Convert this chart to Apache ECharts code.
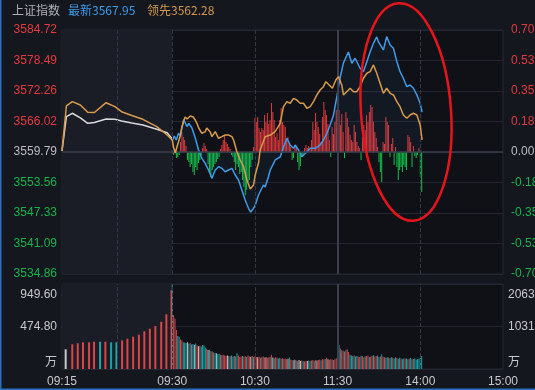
<!DOCTYPE html>
<html><head><meta charset="utf-8">
<script src="https://cdn.jsdelivr.net/npm/echarts@6/dist/echarts.min.js"></script>
<style>html,body{margin:0;padding:0;background:#15171e;}#c{width:535px;height:390px;}</style>
</head><body><div id="c"></div>
<script>
// ---------- data ----------
const indexName = '上证指数';
const prevClose = 3559.79;
const leftTickLabels = ['3534.86','3541.09','3547.33','3553.56','3559.79','3566.02','3572.26','3578.49','3584.72'];
const rightTickLabels = ['-0.70','-0.53','-0.35','-0.18','0.00','0.18','0.35','0.53','0.70'];
const volTickLabels = ['万','474.80','949.60'];
const amtTickLabels = ['万','1031','2063'];
const timeTicks = [-80, 0, 60, 120, 180, 240];
const timeLabels = ['09:15','09:30','10:30','11:30','14:00','15:00'];

// call auction 09:15-09:30 (minutes after 09:15)
const auctionMin   = [0, 0.6, 1.4, 2.5, 3.5, 4.4, 6.0, 7.2, 8.1, 9.5, 11.0, 12.9, 14.3, 15];
const auctionLead  = [3559.99,3569.19,3570.07,3569.39,3567.90,3567.86,3569.86,3569.05,3568.02,3567.25,3566.47,3564.96,3563.26,3562.24];
const auctionPrice = [3559.99,3567.00,3567.70,3566.74,3565.65,3565.82,3566.53,3566.47,3566.12,3565.72,3565.31,3564.43,3563.73,3562.45];
const auctionVolMin = [0.5,1.4,2.14,2.86,3.68,4.36,5.18,5.9,6.68,7.4,8.18,8.9,9.68,10.46,11.2,11.95,12.7,13.5,14.2,14.9];
const auctionVol    = [220,276,287,298,298,305,305,305,298,298,320,339,361,383,421,450,480,528,611,880];
const auctionVolDir = [0,1,1,1,1,1,-1,1,-1,-1,1,1,1,1,1,1,1,1,1,1];

// trading session (trading minutes after 09:30)
const priceMin = [0,1.5,2.9,4.6,5.8,8.3,10.7,12.0,14.3,15.6,16.7,19.1,21.5,23.9,26.3,28.8,31.2,33.6,36.0,38.4,40.8,43.3,45.7,48.1,50.5,52.9,55.3,56.9,58.7,60.2,62.6,66.2,67.4,69.8,71.1,73.5,74.7,78.3,80.5,83.2,85.6,88.0,89.2,91.6,94.1,97.7,100.1,103.7,107.3,109.7,112.2,114.6,117.0,119.4,121.8,124.2,125.8,127.8,130.3,132.7,136.3,138.7,141.2,143.6,146.0,148.4,149.7,150.8,153.2,155.6,157.0,158.1,160.5,163.0,165.3,167.7,170.2,172.6,175.0,177.5,179.9,181.3];
const priceVal = [3562.04,3563.06,3562.24,3563.67,3563.06,3566.43,3565.00,3565.61,3564.69,3564.90,3562.65,3560.20,3558.50,3557.48,3556.11,3554.42,3556.11,3556.79,3556.46,3555.76,3556.11,3556.46,3555.09,3554.07,3552.03,3549.98,3548.29,3547.53,3548.14,3548.96,3551.00,3553.05,3552.64,3554.74,3556.11,3557.48,3558.16,3558.77,3560.61,3562.59,3561.22,3560.55,3561.22,3560.20,3558.83,3559.85,3560.55,3560.55,3561.22,3562.24,3563.61,3565.31,3567.35,3571.03,3574.91,3577.98,3579.00,3580.22,3577.91,3578.94,3576.89,3576.20,3578.24,3580.28,3582.00,3583.29,3582.27,3582.67,3580.63,3583.35,3583.49,3581.65,3580.98,3578.24,3576.20,3574.85,3573.13,3573.48,3572.81,3571.44,3569.74,3567.95];
const leadMin = [0,1.1,2.2,3.6,4.6,5.8,7.0,8.3,9.4,10.7,11.8,13.1,14.3,15.2,16.7,17.9,19.2,21.5,23.9,25.0,26.3,27.6,28.8,31.2,33.6,36.0,38.4,40.8,43.3,44.5,46.9,49.3,51.7,54.2,56.6,59.0,60.2,62.6,63.8,67.4,71.1,74.7,78.3,80.7,83.2,85.6,88.0,90.4,92.8,95.2,97.7,100.1,102.5,104.9,107.3,109.7,111.5,113.9,116.2,118.7,120.6,123.0,124.2,126.6,129.1,131.5,133.9,136.3,138.7,141.2,143.6,146.0,148.4,150.8,153.2,155.6,158.1,160.5,163.0,165.3,167.7,170.2,172.6,175.0,177.5,179.9,181.3];
const leadVal = [3562.24,3560.61,3559.59,3561.02,3561.22,3563.06,3564.90,3566.12,3566.94,3566.53,3566.33,3567.15,3567.35,3566.94,3566.33,3565.65,3564.69,3563.61,3563.94,3564.69,3564.96,3563.88,3562.92,3563.94,3562.59,3562.92,3563.26,3563.26,3562.92,3562.24,3559.85,3558.16,3556.79,3554.07,3552.23,3553.05,3555.09,3557.54,3560.20,3562.92,3563.26,3563.94,3565.65,3569.05,3570.07,3569.74,3570.76,3570.41,3569.74,3569.74,3568.72,3569.05,3570.07,3571.44,3572.46,3573.13,3574.15,3573.48,3572.81,3574.50,3575.18,3573.48,3571.44,3572.11,3572.81,3572.11,3572.11,3573.13,3574.85,3575.87,3576.20,3577.57,3575.87,3573.83,3571.78,3572.81,3571.78,3571.44,3570.07,3569.05,3567.35,3566.68,3567.35,3567.70,3567.35,3565.31,3562.28];

// buy/sell strength bars, one per minute from 09:30
const strength = [
 2,-3,3,-6,-5,-3,10,20,15,12,
 6,-8,-10,-15,-12,-20,-23,-15,-18,-11,
 -8,-3,4,9,6,3,-12,-20,-25,-18,
 -15,-12,-10,-7,-5,3,7,12,17,10,
 8,5,3,-3,-5,-10,-18,-12,-15,-22,
 -20,-28,-35,-43,-38,-30,-28,-15,-8,5,
 34,30,35,24,20,24,22,37,30,39,
 28,32,49,40,32,15,19,12,32,44,
 30,27,25,12,15,8,5,-8,-6,7,
 5,-10,-18,-14,-5,-3,4,7,4,6,
 3,12,30,22,39,30,25,18,10,35,
 50,42,37,28,12,-5,25,18,30,42,
 35,42,27,38,20,-6,40,34,25,17,
 12,10,27,20,10,6,4,-8,15,27,
 22,37,30,40,47,45,30,20,14,5,
 -10,-20,-30,10,8,35,30,27,-5,8,
 14,-13,5,-15,-28,-18,-15,-20,-13,-15,
 -18,17,15,10,-15,6,-4,-6,-3,4,
 -25,-40];

// volume (万手) per minute from 09:30, and direction (1 up, -1 down, 0 flat)
const volume = [
 949,603,560,436,370,360,330,320,300,295,
 290,300,285,290,275,280,270,285,262,255,
 260,250,268,262,240,225,212,215,200,195,
 185,178,175,168,170,160,155,160,150,148,
 150,145,142,150,138,145,140,175,150,135,
 140,145,138,142,135,150,140,138,145,130,
 140,135,130,138,125,130,140,128,132,125,
 130,135,160,128,120,130,125,118,122,115,
 120,112,118,110,115,128,105,100,98,102,
 95,92,100,88,95,90,85,92,88,95,
 90,95,100,92,98,95,100,105,98,110,
 105,112,125,108,102,110,105,100,108,120,
 517,268,230,210,204,195,210,220,190,160,
 150,145,150,140,145,138,135,148,142,130,
 140,145,150,135,140,148,155,140,145,150,
 135,140,163,138,130,125,132,128,120,130,
 125,118,130,122,115,125,118,110,120,115,
 118,110,115,122,108,112,118,105,110,115,
 125,145];
const volDir = [
 -1,1,1,1,-1,-1,1,1,-1,-1,
 -1,0,-1,1,-1,-1,0,-1,1,0,
 1,-1,-1,-1,-1,1,0,-1,1,-1,
 1,-1,0,-1,-1,1,-1,1,1,1,
 0,-1,1,-1,-1,-1,1,-1,1,1,
 1,-1,1,1,-1,1,1,0,1,-1,
 1,1,0,1,1,-1,1,1,0,1,
 1,-1,1,0,-1,1,1,-1,-1,1,
 1,-1,1,1,0,-1,1,1,-1,0,
 1,-1,0,0,1,-1,1,1,0,-1,
 -1,1,1,-1,1,0,1,1,-1,1,
 1,-1,1,0,1,1,-1,1,1,1,
 1,-1,1,-1,1,1,-1,1,1,-1,
 -1,-1,1,-1,-1,1,1,-1,1,1,
 -1,1,1,-1,1,1,-1,1,1,-1,
 -1,1,-1,1,1,-1,-1,1,-1,-1,
 1,-1,-1,1,-1,-1,1,-1,-1,1,
 -1,-1,1,-1,-1,1,-1,-1,-1,-1,
 -1,-1];

// ---------- build ----------
const RED = '#e5393d', GREEN = '#16b34c', GREY = '#b9bbc0';
const VRED = '#dc4548', VCYAN = '#1aa7a9', VWHITE = '#c9c9c9';
const toPct = p => (p - prevClose) / prevClose * 100;
const aX = m => -80 + m * 80 / 15;
const dirColor = d => d > 0 ? VRED : (d < 0 ? VCYAN : VWHITE);
const pctColor = v => { v = parseFloat(v); return v > 1e-6 ? RED : (v < -1e-6 ? GREEN : GREY); };
const lastPrice = priceVal[priceVal.length - 1];
const lastLead = leadVal[leadVal.length - 1];

const whiteData = auctionMin.map((m, i) => [aX(m), toPct(auctionPrice[i])]);
const orangeData = auctionMin.map((m, i) => [aX(m), toPct(auctionLead[i])])
  .concat(leadMin.map((t, i) => [t, toPct(leadVal[i])]));
const blueData = priceMin.map((t, i) => [t, toPct(priceVal[i])]);
const strengthData = strength.map((v, i) => ({ value: [i, v], itemStyle: { color: v >= 0 ? '#e0393c' : '#14c04a' } }));
const volData = volume.map((v, i) => ({ value: [i, v], itemStyle: { color: dirColor(volDir[i]) } }));
const aVolData = auctionVol.map((v, i) => ({ value: [aX(auctionVolMin[i]), v], itemStyle: { color: dirColor(auctionVolDir[i]) } }));

const vLine = { type: 'dashed', color: '#333746', width: 1 };
const vLines = [
  { xAxis: -40, lineStyle: vLine }, { xAxis: 0, lineStyle: vLine },
  { xAxis: 60, lineStyle: vLine }, { xAxis: 180, lineStyle: vLine },
  { xAxis: 120, lineStyle: { type: 'solid', color: '#3b3f4d', width: 2 } }
];
const FONT = 'Arial, "Liberation Sans", "Noto Sans CJK SC", sans-serif';
const volRich = { t: { padding: [5, 0, 0, 0], color: '#c8c9cc', fontSize: 12, fontFamily: FONT } };

const chart = echarts.init(document.getElementById('c'), null, { renderer: 'canvas' });
chart.setOption({
  animation: false,
  backgroundColor: '#15171e',
  textStyle: { fontFamily: FONT },
  grid: [
    { left: 62, right: 32, top: 30, bottom: 116, containLabel: false, outerBoundsMode: 'none',
      show: true, backgroundColor: '#101117', borderColor: '#252833', borderWidth: 1 },
    { left: 62, right: 32, top: 284, bottom: 21, containLabel: false, outerBoundsMode: 'none',
      show: true, backgroundColor: '#101117', borderColor: '#252833', borderWidth: 1 }
  ],
  xAxis: [
    { type: 'value', gridIndex: 0, min: -80, max: 240, interval: 20, show: false },
    { type: 'value', gridIndex: 1, min: -80, max: 240, interval: 20,
      axisLine: { show: false }, axisTick: { show: false }, splitLine: { show: false },
      axisLabel: { show: true, margin: 7, color: '#c8c9cc', fontSize: 12, fontFamily: FONT, showMinLabel: true, showMaxLabel: true,
        formatter: v => { const k = timeTicks.indexOf(Math.round(v)); return k >= 0 ? timeLabels[k] : ''; } } },
    { type: 'value', gridIndex: 1, min: -80, max: 240, show: false }
  ],
  yAxis: [
    { type: 'value', gridIndex: 0, position: 'left', min: -0.7, max: 0.7, interval: 0.175,
      axisLine: { show: false }, axisTick: { show: false },
      splitLine: { show: true, lineStyle: { color: '#242731', width: 1 } },
      axisLabel: { margin: 5, fontSize: 12, fontFamily: FONT, color: pctColor,
        formatter: v => leftTickLabels[Math.round((v + 0.7) / 0.175)] } },
    { type: 'value', gridIndex: 0, position: 'right', min: -0.7, max: 0.7, interval: 0.175,
      axisLine: { show: false }, axisTick: { show: false }, splitLine: { show: false },
      axisLabel: { margin: 8, fontSize: 12, fontFamily: FONT, color: pctColor,
        formatter: v => rightTickLabels[Math.round((v + 0.7) / 0.175)] } },
    { type: 'value', gridIndex: 0, min: -122, max: 122, show: false },
    { type: 'value', gridIndex: 1, position: 'left', min: 0, max: 949.6, interval: 474.8,
      axisLine: { show: false }, axisTick: { show: false },
      splitLine: { show: true, lineStyle: { color: '#242731' } },
      axisLabel: { margin: 5, fontSize: 12, fontFamily: FONT, color: '#c8c9cc',
        verticalAlignMaxLabel: 'top', verticalAlignMinLabel: 'bottom', rich: volRich,
        formatter: v => { const k = Math.round(v / 474.8); return k === 2 ? '{t|' + volTickLabels[k] + '}' : volTickLabels[k]; } } },
    { type: 'value', gridIndex: 1, position: 'right', min: 0, max: 2063, interval: 1031.5,
      axisLine: { show: false }, axisTick: { show: false }, splitLine: { show: false },
      axisLabel: { margin: 5, fontSize: 12, fontFamily: FONT, color: '#c8c9cc',
        verticalAlignMaxLabel: 'top', verticalAlignMinLabel: 'bottom', rich: volRich,
        formatter: v => { const k = Math.round(v / 1031.5); return k === 2 ? '{t|' + amtTickLabels[k] + '}' : amtTickLabels[k]; } } }
  ],
  series: [
    { type: 'line', xAxisIndex: 0, yAxisIndex: 0, data: [[-80, 0]], symbol: 'none', lineStyle: { opacity: 0 }, silent: true, z: 0,
      markArea: { silent: true, itemStyle: { color: '#1a1d26' }, data: [[{ xAxis: -80 }, { xAxis: 0 }]] },
      markLine: { silent: true, symbol: ['none', 'none'], label: { show: false },
        data: vLines.concat([{ yAxis: 0, lineStyle: { type: 'solid', color: '#3a3e4c', width: 1.5 } }]) } },
    { type: 'bar', xAxisIndex: 0, yAxisIndex: 2, data: strengthData, barWidth: 1, z: 2 },
    { type: 'line', xAxisIndex: 0, yAxisIndex: 0, data: whiteData, symbol: 'none', z: 4,
      lineStyle: { color: '#d9d9dc', width: 1.5 } },
    { type: 'line', xAxisIndex: 0, yAxisIndex: 0, data: blueData, symbol: 'none', z: 4,
      lineStyle: { color: '#3d9be9', width: 1.5 },
      areaStyle: { color: 'rgba(61,155,233,0.08)' } },
    { type: 'line', xAxisIndex: 0, yAxisIndex: 0, data: orangeData, symbol: 'none', z: 5,
      lineStyle: { color: '#d99a4c', width: 1.5 } },
    { type: 'line', xAxisIndex: 1, yAxisIndex: 3, data: [[-80, 0]], symbol: 'none', lineStyle: { opacity: 0 }, silent: true, z: 0,
      markArea: { silent: true, itemStyle: { color: '#1a1d26' }, data: [[{ xAxis: -80 }, { xAxis: 0 }]] },
      markLine: { silent: true, symbol: ['none', 'none'], label: { show: false }, data: vLines } },
    { type: 'bar', xAxisIndex: 2, yAxisIndex: 3, data: aVolData, barWidth: 2, z: 2 },
    { type: 'bar', xAxisIndex: 1, yAxisIndex: 3, data: volData, barWidth: 1, z: 2 }
  ],
  graphic: [
    { type: 'text', left: 12, top: 4, style: { text: indexName, fill: '#aeb0b6', font: '12px "Noto Sans CJK SC", sans-serif' } },
    { type: 'text', left: 68, top: 4, style: { text: '最新' + lastPrice.toFixed(2), fill: '#3d9be9', font: '12px "Noto Sans CJK SC", sans-serif' } },
    { type: 'text', left: 147, top: 4, style: { text: '领先' + lastLead.toFixed(2), fill: '#d1994f', font: '12px "Noto Sans CJK SC", sans-serif' } },
    { type: 'rect', shape: { x: 0, y: 0, width: 1.5, height: 390 }, style: { fill: '#2a6fc0' }, z: 10 },
    { type: 'rect', shape: { x: 0, y: 388.5, width: 535, height: 1.5 }, style: { fill: '#2a6fc0' }, z: 10 },
    { type: 'ellipse', shape: { cx: 406, cy: 112, rx: 45, ry: 109 }, originX: 406, originY: 112, rotation: 0.07,
      style: { fill: 'none', stroke: '#e8141c', lineWidth: 2.5 }, z: 20 }
  ]
});
</script></body></html>
